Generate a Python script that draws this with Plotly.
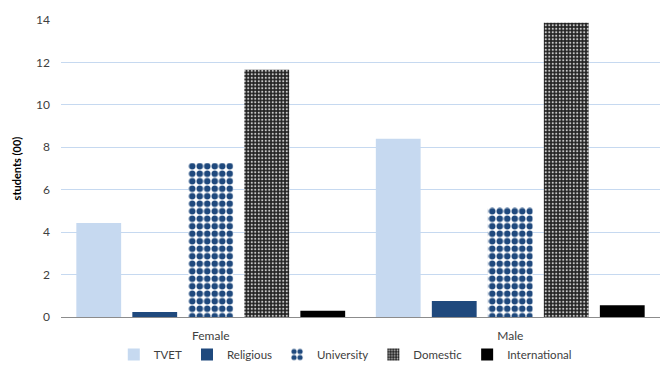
import plotly.graph_objects as go

categories = ["Female", "Male"]
series_names = ["TVET", "Religious", "University", "Domestic", "International"]
tvet = [4.43, 8.4]
religious = [0.24, 0.76]
university = [7.26, 5.19]
domestic = [11.65, 13.87]
international = [0.3, 0.55]
y_ticks = [0, 2, 4, 6, 8, 10, 12, 14]

values = [tvet, religious, university, domestic, international]
styles = [
    dict(color="#C6D9F0"),
    dict(color="#1F497D"),
    dict(color="white", pattern=dict(shape=".", fgcolor="#1F497D", bgcolor="white", size=7.5, solidity=0.6, fillmode="replace")),
    dict(color="#3a3a3a", pattern=dict(shape=".", fgcolor="#c8c8c8", bgcolor="#222222", size=3.5, solidity=0.3, fillmode="replace")),
    dict(color="black"),
]

fig = go.Figure()
for name, vals, st in zip(series_names, values, styles):
    fig.add_trace(go.Bar(name=name, x=categories, y=vals, marker=dict(line=dict(width=0), **st)))

font = "Lato, Calibri, 'Liberation Sans', sans-serif"
fig.update_layout(
    width=664, height=369,
    margin=dict(l=61, r=4, t=20, b=52, autoexpand=False),
    barmode="group", bargap=0.065, bargroupgap=0.2,
    plot_bgcolor="white", paper_bgcolor="white",
    font=dict(family=font, size=12, color="#404040"),
    legend=dict(orientation="h", x=0.52, xanchor="center", xref="container",
                y=-0.022, yanchor="bottom", yref="container",
                font=dict(size=11.5, color="#404040"), itemwidth=30, traceorder="normal",
                tracegroupgap=0),
    xaxis=dict(showline=True, linecolor="#8c8c8c", linewidth=1, ticks="", showgrid=False,
               automargin=False, ticklabelstandoff=8, tickfont=dict(size=12, color="#404040")),
    yaxis=dict(range=[0, 14], tickvals=y_ticks, showgrid=True, gridcolor="#C6D9F0", gridwidth=1,
               automargin=False, zeroline=False, showline=False, ticks="", ticklabelstandoff=10,
               tickfont=dict(size=12, color="#404040"),
               title=dict(text="<b>students (00)</b>", font=dict(size=11, color="black"), standoff=12)),
)
fig.write_html("out.html")
